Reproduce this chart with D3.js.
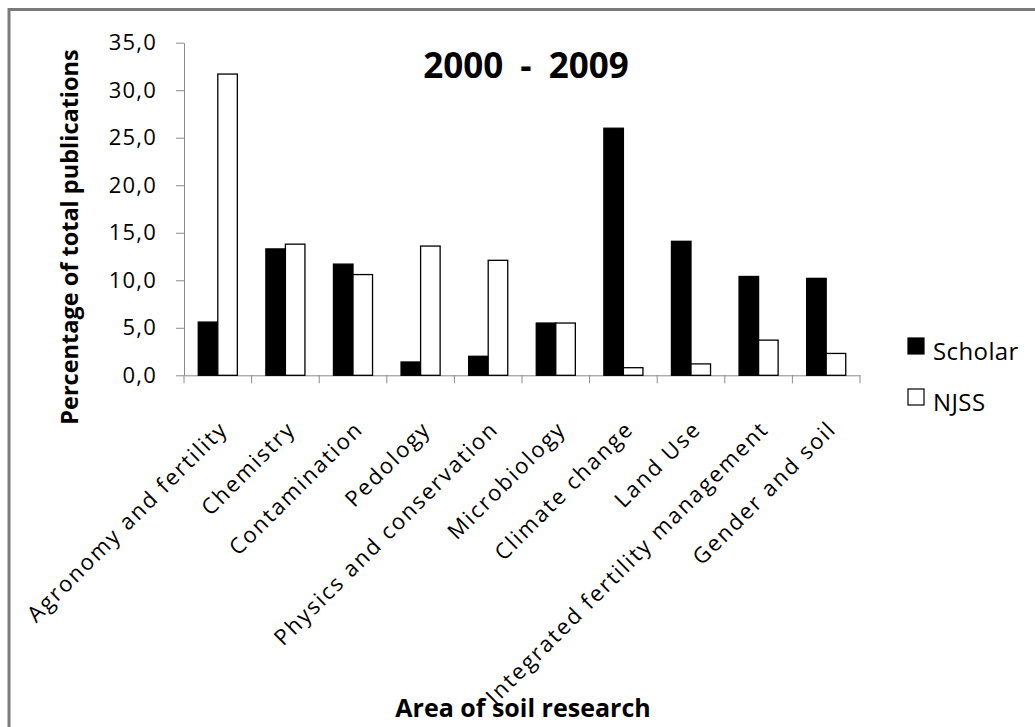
<!DOCTYPE html>
<html>
<head>
<meta charset="utf-8">
<script src="https://cdn.jsdelivr.net/npm/d3@7/dist/d3.min.js"></script>
<style>
  html, body { margin: 0; padding: 0; background: #fff; }
  svg { display: block; }
  text { font-family: "Open Sans", "Noto Sans", sans-serif; fill: #000; }
</style>
</head>
<body>
<svg id="chart" width="1035" height="727"></svg>
<script>
// Share of publications by soil research area, 2000 - 2009
const categories = [
  "Agronomy and fertility", "Chemistry", "Contamination", "Pedology",
  "Physics and conservation", "Microbiology", "Climate change", "Land Use",
  "Integrated fertility management", "Gender and soil"
];
const seriesNames = ["Scholar", "NJSS"];
const scholarValues = [5.6, 13.3, 11.7, 1.4, 2.0, 5.5, 26.0, 14.1, 10.4, 10.2];
const njssValues    = [31.7, 13.8, 10.6, 13.6, 12.1, 5.5, 0.8, 1.2, 3.7, 2.3];
const yTickValues = [0, 5, 10, 15, 20, 25, 30, 35];
const seriesFill = { "Scholar": "#000000", "NJSS": "#ffffff" };

const svg = d3.select("#chart");
const W = 1035, H = 727;
const plot = { left: 184, right: 860, top: 42.7, bottom: 375.3 };
const axisGrey = "#8a8a8a";

// outer chart-area frame (right and bottom edges fall off the page)
svg.append("rect")
  .attr("x", 9).attr("y", 9.5)
  .attr("width", W + 20).attr("height", H + 20)
  .attr("fill", "#fff")
  .attr("stroke", "#7a7a7a").attr("stroke-width", 3);

const x = d3.scaleBand().domain(categories).range([plot.left, plot.right]);
const xSub = d3.scaleBand().domain(seriesNames)
  .range([0, x.bandwidth()]).paddingInner(0).paddingOuter(0.73);
const y = d3.scaleLinear().domain([0, 35]).range([plot.bottom, plot.top]);

const rows = categories.map((c, i) => ({
  category: c,
  values: [
    { series: "Scholar", value: scholarValues[i] },
    { series: "NJSS", value: njssValues[i] }
  ]
}));

// y axis
const yAxis = svg.append("g")
  .attr("transform", `translate(${plot.left},0)`)
  .call(d3.axisLeft(y).tickValues(yTickValues).tickSizeInner(8).tickSizeOuter(0)
    .tickPadding(19).tickFormat(d => d.toFixed(1).replace(".", ",")));
yAxis.select(".domain").attr("stroke", axisGrey);
yAxis.selectAll(".tick line").attr("stroke", axisGrey);
yAxis.selectAll(".tick text")
  .style("font-family", '"Open Sans", sans-serif')
  .style("font-size", "22px").style("letter-spacing", "1.2px")
  .attr("fill", "#000");

// x axis baseline with category boundary ticks
const xAxis = svg.append("g")
  .attr("transform", `translate(0,${plot.bottom})`)
  .call(d3.axisBottom(x).tickSize(0).tickFormat(""));
xAxis.select(".domain").attr("stroke", axisGrey);
const boundaries = categories.map(c => x(c)).concat([x(categories[categories.length - 1]) + x.bandwidth()]);
xAxis.selectAll("line.boundary").data(boundaries).join("line")
  .attr("class", "boundary")
  .attr("x1", d => d).attr("x2", d => d)
  .attr("y1", 0).attr("y2", 8)
  .attr("stroke", axisGrey);

// bars
const groups = svg.append("g").selectAll("g").data(rows).join("g")
  .attr("transform", d => `translate(${x(d.category)},0)`);
groups.selectAll("rect").data(d => d.values).join("rect")
  .attr("x", d => xSub(d.series))
  .attr("y", d => y(d.value))
  .attr("width", xSub.bandwidth())
  .attr("height", d => y(0) - y(d.value))
  .attr("fill", d => seriesFill[d.series])
  .attr("stroke", "#000").attr("stroke-width", 1.3);

// rotated category labels
svg.append("g").selectAll("text").data(categories).join("text")
  .attr("transform", d => `translate(${x(d) + x.bandwidth() / 2 + 6},425) rotate(-45)`)
  .attr("text-anchor", "end")
  .attr("dy", "0.35em")
  .style("font-size", "22px").style("letter-spacing", "2px")
  .text(d => d);

// title
svg.append("text")
  .attr("x", (plot.left + plot.right) / 2 + 4).attr("y", 78)
  .attr("text-anchor", "middle")
  .style("font-size", "35px").style("font-weight", "700")
  .style("word-spacing", "8px")
  .text("2000 - 2009");

// axis titles
svg.append("text")
  .attr("transform", `translate(78,237) rotate(-90)`)
  .attr("text-anchor", "middle")
  .style("font-size", "23.5px").style("font-weight", "700")
  .text("Percentage of total publications");

svg.append("text")
  .attr("x", (plot.left + plot.right) / 2 + 1).attr("y", 717)
  .attr("text-anchor", "middle")
  .style("font-size", "25px").style("font-weight", "700")
  .text("Area of soil research");

// legend
const legend = svg.append("g").selectAll("g").data(seriesNames).join("g")
  .attr("transform", (d, i) => `translate(908,${338 + i * 51})`);
legend.append("rect")
  .attr("x", 0).attr("y", 0).attr("width", 16).attr("height", 16)
  .attr("fill", d => seriesFill[d])
  .attr("stroke", "#000").attr("stroke-width", 1.2);
legend.append("text")
  .attr("x", 25).attr("y", 22)
  .style("font-size", "24px").style("letter-spacing", "0.4px")
  .text(d => d);
</script>
</body>
</html>
